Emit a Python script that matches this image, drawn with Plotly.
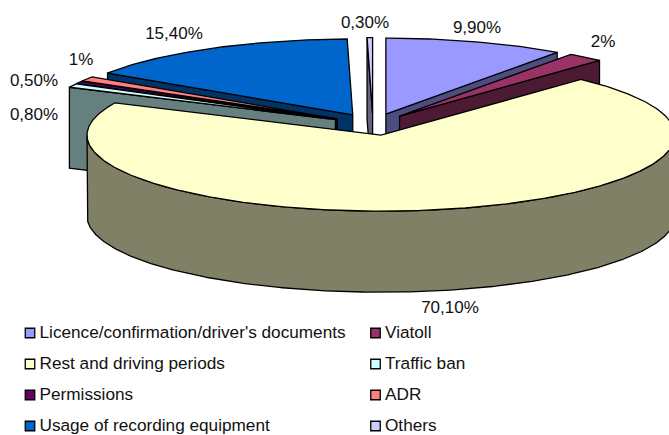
import math
import plotly.graph_objects as go

categories = ["Licence/confirmation/driver's documents", "Viatoll", "Rest and driving periods",
              "Traffic ban", "Permissions", "ADR", "Usage of recording equipment", "Others"]
values = [9.9, 2, 70.1, 0.8, 0.5, 1, 15.4, 0.3]
value_labels = ["9,90%", "2%", "70,10%", "0,80%", "0,50%", "1%", "15,40%", "0,30%"]
top_colors = ["#9999FF", "#993366", "#FFFFCC", "#CCFFFF", "#660066", "#FF8080", "#0066CC", "#CCCCFF"]
side_colors = ["#4D4D80", "#4D1A33", "#808066", "#668080", "#330033", "#804040", "#003366", "#666680"]

# Pie geometry in pixel-like axis units
CX, CY, RX, RY, DEPTH, EXPLODE = 373, 124.5, 294, 76, 81, 0.143
LABEL_X = [477, 603, 450, 34, 34, 81, 174, 365]
LABEL_Y = [29, 43, 309, 116, 82, 61, 35, 24]
LEGEND_X = [30, 375.5]
LEGEND_Y = [334, 365, 396, 427]
LINE = dict(color="black", width=1.3)
FONT = "Liberation Sans, Arial, sans-serif"

total = sum(values)
cum = [0]
for v in values:
    cum.append(cum[-1] + v)
spans = [(cum[i] / total * 360, cum[i + 1] / total * 360) for i in range(len(values))]

fig = go.Figure()


def poly(xs, ys, color, name):
    fig.add_trace(go.Scatter(x=xs + xs[:1], y=ys + ys[:1], mode="lines", fill="toself",
                             fillcolor=color, line=LINE, hoverinfo="skip",
                             showlegend=False, name=name))


def arc(ax, ay, t1, t2, dy=0):
    n = max(2, int(abs(t2 - t1) * 1.5) + 2)
    ts = [math.radians(t1 + (t2 - t1) * k / (n - 1)) for k in range(n)]
    return [ax + RX * math.sin(t) for t in ts], [ay - RY * math.cos(t) + dy for t in ts]


# paint back to front
order = [7, 6, 5, 4, 3, 0, 1, 2]
for i in order:
    t1, t2 = spans[i]
    mid = math.radians((t1 + t2) / 2)
    ax = CX + EXPLODE * RX * math.sin(mid)
    ay = CY - EXPLODE * RY * math.cos(mid)
    for t, vis in ((t1, math.sin(math.radians(t1)) < -1e-6), (t2, math.sin(math.radians(t2)) > 1e-6)):
        if vis:
            ox = ax + RX * math.sin(math.radians(t))
            oy = ay - RY * math.cos(math.radians(t))
            poly([ax, ox, ox, ax], [ay, oy, oy + DEPTH, ay + DEPTH], side_colors[i], categories[i])
    w1, w2 = max(t1, 90), min(t2, 270)
    if w2 > w1:
        xa, ya = arc(ax, ay, w1, w2)
        xb, yb = arc(ax, ay, w2, w1, DEPTH)
        poly(xa + xb, ya + yb, side_colors[i], categories[i])
    xa, ya = arc(ax, ay, t1, t2)
    poly([ax] + xa, [ay] + ya, top_colors[i], categories[i])

fig.add_trace(go.Scatter(x=LABEL_X, y=LABEL_Y, mode="text", text=value_labels,
                         textposition="middle center", hoverinfo="skip", showlegend=False,
                         textfont=dict(family=FONT, size=17, color="#111111")))

for idx, name in enumerate(categories):
    lx = LEGEND_X[idx % 2]
    ly = LEGEND_Y[idx // 2]
    fig.add_trace(go.Scatter(x=[lx], y=[ly - 1], mode="markers", hoverinfo="skip", showlegend=False,
                             marker=dict(symbol="square", size=9.5, color=top_colors[idx],
                                         line=dict(color="black", width=1.3))))
    fig.add_trace(go.Scatter(x=[lx + 9.5], y=[ly], mode="text", text=[name], hoverinfo="skip",
                             showlegend=False, textposition="middle right",
                             textfont=dict(family=FONT, size=17.2, color="#111111")))

fig.update_layout(width=669, height=435, margin=dict(l=0, r=0, t=0, b=0),
                  paper_bgcolor="white", plot_bgcolor="white",
                  xaxis=dict(range=[0, 669], visible=False, fixedrange=True),
                  yaxis=dict(range=[435, 0], visible=False, fixedrange=True))
fig.write_html("out.html", config=dict(displayModeBar=False),
               post_script="document.body.style.margin='0';")
